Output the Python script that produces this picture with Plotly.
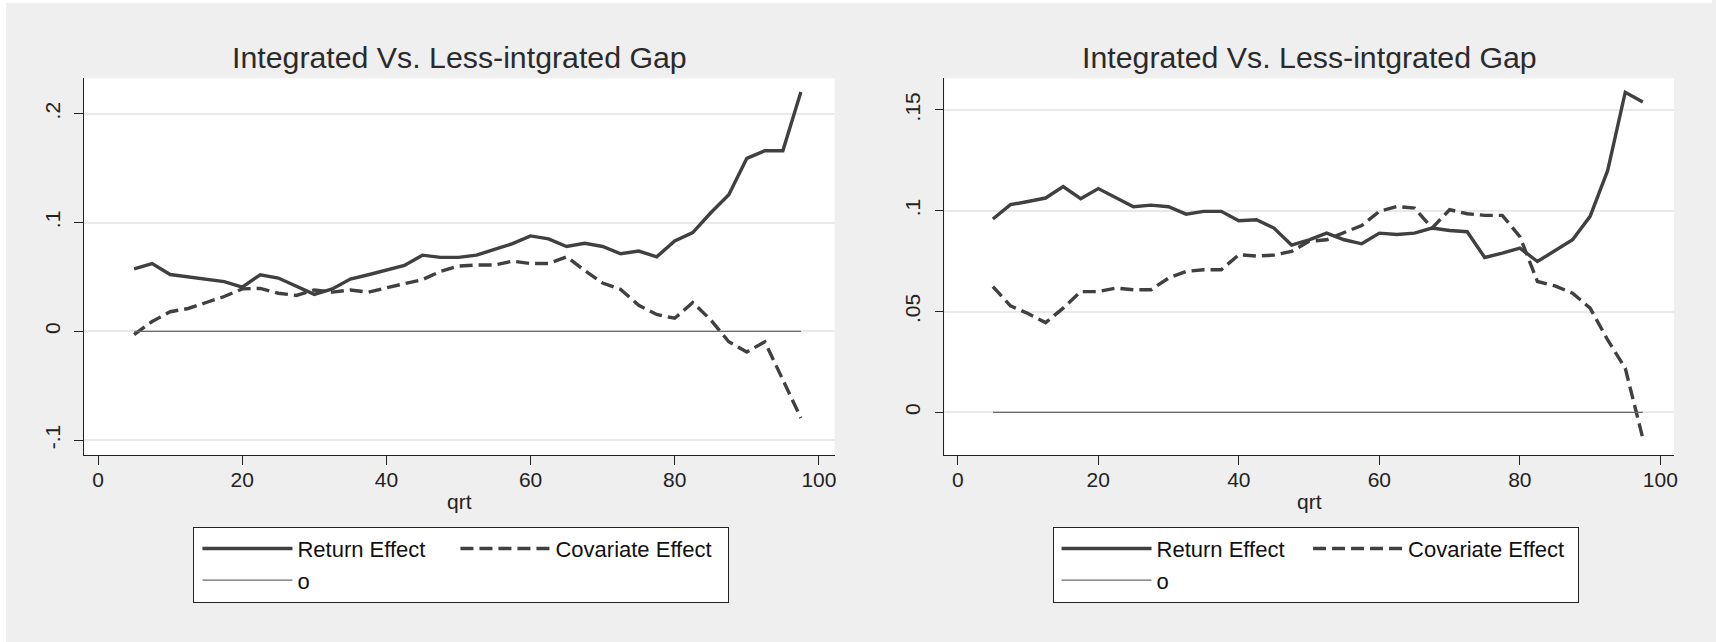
import plotly.graph_objects as go

# ---------------- data ----------------
qrt = [5, 7.5, 10, 12.5, 15, 17.5, 20, 22.5, 25, 27.5, 30, 32.5, 35, 37.5,
       40, 42.5, 45, 47.5, 50, 52.5, 55, 57.5, 60, 62.5, 65, 67.5, 70, 72.5,
       75, 77.5, 80, 82.5, 85, 87.5, 90, 92.5, 95, 97.5]

return_left = [0.0574, 0.0623, 0.0522, 0.0500, 0.0480, 0.0457, 0.0407, 0.0520,
               0.0490, 0.0414, 0.0340, 0.0390, 0.0480, 0.0520, 0.0560, 0.0605,
               0.0700, 0.0680, 0.0680, 0.0700, 0.0753, 0.0806, 0.0877, 0.0850,
               0.0780, 0.0810, 0.0780, 0.0713, 0.0738, 0.0685, 0.0830, 0.0907,
               0.1090, 0.1256, 0.1590, 0.1660, 0.1660, 0.2200]

cov_left = [-0.0030, 0.0090, 0.0180, 0.0210, 0.0265, 0.0320, 0.0390, 0.0395,
            0.0350, 0.0330, 0.0380, 0.0360, 0.0380, 0.0360, 0.0400, 0.0440,
            0.0475, 0.0550, 0.0600, 0.0610, 0.0610, 0.0645, 0.0623, 0.0623,
            0.0685, 0.0560, 0.0444, 0.0385, 0.0240, 0.0155, 0.0120, 0.0265,
            0.0105, -0.0096, -0.0190, -0.0096, -0.0450, -0.0796]

return_right = [0.0959, 0.1030, 0.1046, 0.1063, 0.1120, 0.1060, 0.1110, 0.1066,
                0.1020, 0.1028, 0.1020, 0.0983, 0.0997, 0.0997, 0.0950, 0.0955,
                0.0914, 0.0830, 0.0856, 0.0889, 0.0856, 0.0836, 0.0889, 0.0882,
                0.0889, 0.0914, 0.0902, 0.0896, 0.0768, 0.0790, 0.0815, 0.0748,
                0.0800, 0.0856, 0.0972, 0.1200, 0.1588, 0.1540]

cov_right = [0.0624, 0.0528, 0.0490, 0.0445, 0.0517, 0.0599, 0.0599, 0.0616,
             0.0608, 0.0608, 0.0666, 0.0699, 0.0707, 0.0707, 0.0782, 0.0775,
             0.0780, 0.0798, 0.0848, 0.0856, 0.0892, 0.0927, 0.0997, 0.1021,
             0.1013, 0.0914, 0.1005, 0.0985, 0.0977, 0.0977, 0.0872, 0.0649,
             0.0627, 0.0591, 0.0517, 0.0359, 0.0219, -0.0129]

zero_line = [0, 0, 0, 0, 0, 0, 0, 0, 0, 0, 0, 0, 0, 0, 0, 0, 0, 0, 0,
             0, 0, 0, 0, 0, 0, 0, 0, 0, 0, 0, 0, 0, 0, 0, 0, 0, 0, 0]

series_names = ["Return Effect", "Covariate Effect", "o"]
panel_title = "Integrated Vs. Less-intgrated Gap"
x_title = "qrt"

x_tickvals = [0, 20, 40, 60, 80, 100]
x_ticktext = ["0", "20", "40", "60", "80", "100"]
y_tickvals_left = [-0.1, 0, 0.1, 0.2]
y_ticktext_left = ["-.1", "0", ".1", ".2"]
y_tickvals_right = [0, 0.05, 0.1, 0.15]
y_ticktext_right = ["0", ".05", ".1", ".15"]

# ---------------- layout geometry (pixels of the 1716x642 page) ----------------
W, H = 1716, 642
FONT = "Arial, 'Liberation Sans', sans-serif"
LINE_COL = "#404040"
BG = "#efefef"


def px_x(p):
    return p / W


def px_y(p):
    return 1 - p / H


fig = go.Figure()


def add_panel(xa, ya, ret, cov, legend_id, w_col1, w_col2):
    fig.add_trace(go.Scatter(
        x=qrt, y=ret, mode="lines", name=series_names[0],
        line=dict(color=LINE_COL, width=3.4),
        xaxis=xa, yaxis=ya, legend=legend_id,
        legendgroup=legend_id + "_a", legendwidth=w_col1,
        hoverinfo="skip"))
    fig.add_trace(go.Scatter(
        x=qrt, y=cov, mode="lines", name=series_names[1],
        line=dict(color=LINE_COL, width=3.4, dash="13px,6px"),
        xaxis=xa, yaxis=ya, legend=legend_id,
        legendgroup=legend_id + "_b", legendwidth=w_col2,
        hoverinfo="skip"))
    fig.add_trace(go.Scatter(
        x=qrt, y=zero_line, mode="lines", name=series_names[2],
        line=dict(color="#6a6a6a", width=1.2),
        xaxis=xa, yaxis=ya, legend=legend_id,
        legendgroup=legend_id + "_a", legendwidth=w_col1,
        hoverinfo="skip"))


add_panel("x", "y", return_left, cov_left, "legend", 149, 168)
add_panel("x2", "y2", return_right, cov_right, "legend2", 142.5, 164)

axis_common = dict(
    ticks="outside", ticklen=8.5, tickwidth=1.2, tickcolor="#222222",
    showline=True, linecolor="#222222", linewidth=1.3,
    zeroline=False, tickfont=dict(family=FONT, size=21, color="#222222"),
)

ydom = [px_y(455), px_y(78.3)]
title_font = dict(family=FONT, size=21, color="#222222")

legend_common = dict(
    orientation="h", traceorder="grouped", xanchor="left", yanchor="top",
    y=px_y(526.7), bgcolor="white", bordercolor="#222222", borderwidth=1,
    font=dict(family=FONT, size=22, color="#111111"),
    itemwidth=90, indentation=4, itemclick=False, itemdoubleclick=False,
)

fig.update_layout(
    width=W, height=H,
    margin=dict(l=0, r=0, t=0, b=0),
    paper_bgcolor=BG, plot_bgcolor="white",
    font=dict(family=FONT, color="#222222"),
    showlegend=True,
    xaxis=dict(domain=[px_x(84), px_x(836.7)], range=[-1.98, 102.2],
               tickvals=x_tickvals, ticktext=x_ticktext, showgrid=False,
               anchor="y", ticklabelstandoff=-3,
               title=dict(text=x_title, font=title_font, standoff=4),
               **axis_common),
    yaxis=dict(domain=ydom, range=[-0.1137, 0.2326],
               tickvals=y_tickvals_left, ticktext=y_ticktext_left,
               tickangle=-90, showgrid=True, gridcolor="#e9e9e9", gridwidth=1.5,
               anchor="x", ticklabelstandoff=6, **axis_common),
    xaxis2=dict(domain=[px_x(946.7), px_x(1678)], range=[-1.89, 101.95],
                tickvals=x_tickvals, ticktext=x_ticktext, showgrid=False,
                anchor="y2", ticklabelstandoff=-3,
                title=dict(text=x_title, font=title_font, standoff=4),
                **axis_common),
    yaxis2=dict(domain=ydom, range=[-0.02117, 0.1657],
                tickvals=y_tickvals_right, ticktext=y_ticktext_right,
                tickangle=-90, showgrid=True, gridcolor="#e9e9e9", gridwidth=1.5,
                anchor="x2", ticklabelstandoff=6, **axis_common),
    legend=dict(x=px_x(193.9), **legend_common),
    legend2=dict(x=px_x(1055), **legend_common),
    annotations=[
        dict(text=panel_title, xref="paper", yref="paper",
             x=px_x((84 + 836.7) / 2), y=px_y(57.3), xanchor="center", yanchor="middle",
             showarrow=False, font=dict(family=FONT, size=30.3, color="#2a2a2a")),
        dict(text=panel_title, xref="paper", yref="paper",
             x=px_x((946.7 + 1678) / 2), y=px_y(57.3), xanchor="center", yanchor="middle",
             showarrow=False, font=dict(family=FONT, size=30.3, color="#2a2a2a")),
    ],
    shapes=[
        dict(type="rect", xref="paper", yref="paper", x0=0, x1=px_x(6), y0=0, y1=1,
             fillcolor="white", line=dict(width=0), layer="below"),
        dict(type="rect", xref="paper", yref="paper", x0=0, x1=1, y0=px_y(3), y1=1,
             fillcolor="white", line=dict(width=0), layer="below"),
    ],
)

fig.write_html(
    "out.html",
    config={"displayModeBar": False},
    post_script="document.body.style.margin='0px';document.body.style.overflow='hidden';",
)
